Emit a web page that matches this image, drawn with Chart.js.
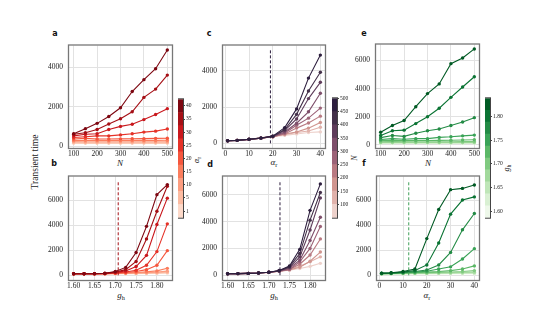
<!DOCTYPE html>
<html>
<head>
<meta charset="utf-8">
<script src="https://cdn.jsdelivr.net/npm/chart.js@4.4.1/dist/chart.umd.min.js"></script>
<style>
  body { margin: 0; width: 560px; height: 320px; background: #fff; position: relative; overflow: hidden; }
  canvas { position: absolute; }
  .lbl { position: absolute; transform: translate(-50%, -50%); white-space: nowrap; color: #222;
         font-family: "Liberation Serif", serif; font-size: 9px; line-height: 1; }
  .it { font-style: italic; }
  .rot { transform: translate(-50%, -50%) rotate(-90deg); }
  .let { position: absolute; transform: translate(-50%, -50%); font: bold 8px "DejaVu Sans", sans-serif; color: #111; }
  sub { font-size: 70%; vertical-align: -2px; font-style: normal; }
</style>
</head>
<body>
<div class="lbl rot" style="left:36px;top:162px;font-size:9.5px">Transient time</div>

<div class="let" style="left:55px;top:33px">a</div>
<div class="let" style="left:54px;top:163px">b</div>
<div class="let" style="left:209px;top:33px">c</div>
<div class="let" style="left:210px;top:164px">d</div>
<div class="let" style="left:364px;top:33px">e</div>
<div class="let" style="left:364px;top:163px">f</div>

<div class="lbl it" style="left:120px;top:163px">N</div>
<div class="lbl" style="left:121px;top:296px"><i>g</i><sub>h</sub></div>
<div class="lbl" style="left:274px;top:163px"><i>α</i><sub>r</sub></div>
<div class="lbl" style="left:274px;top:296px"><i>g</i><sub>h</sub></div>
<div class="lbl it" style="left:428px;top:163px">N</div>
<div class="lbl" style="left:427px;top:296px"><i>α</i><sub>r</sub></div>

<div class="lbl rot" style="left:198px;top:160px;font-size:8px"><i>α</i><sub>r</sub></div>
<div class="lbl rot it" style="left:355px;top:158px;font-size:8px">N</div>
<div class="lbl rot" style="left:508px;top:168px;font-size:8px"><i>g</i><sub>h</sub></div>

<script>
const nVals = [100, 150, 200, 250, 300, 350, 400, 450, 500];
const alphaVals = [1, 5, 10, 15, 20, 25, 30, 35, 40];
const ghVals = [1.6, 1.625, 1.65, 1.675, 1.7, 1.725, 1.75, 1.775, 1.8, 1.825];

// transient time, row per alpha_r, column per N (panels a and c)
const timeAlphaN = [
  [140, 140, 140, 140, 140, 140, 140, 140, 140],
  [170, 165, 165, 165, 165, 165, 165, 165, 165],
  [230, 225, 220, 220, 220, 220, 220, 225, 225],
  [290, 300, 290, 285, 285, 290, 290, 290, 295],
  [360, 400, 360, 360, 370, 375, 380, 395, 400],
  [440, 475, 520, 520, 570, 630, 710, 760, 870],
  [520, 600, 630, 840, 1000, 1110, 1345, 1600, 1900],
  [600, 680, 840, 1120, 1390, 1740, 2470, 2890, 3600],
  [632, 885, 1154, 1502, 1945, 2767, 3368, 3921, 4870]
];

// row per alpha_r, column per g_h (panel b)
const timeAlphaGh = [
  [110, 110, 115, 115, 120, 125, 130, 140, 150, 170],
  [115, 115, 120, 120, 130, 140, 150, 170, 190, 230],
  [120, 120, 120, 120, 140, 160, 180, 210, 250, 330],
  [120, 120, 120, 125, 150, 180, 220, 280, 350, 555],
  [120, 120, 120, 130, 170, 220, 300, 450, 800, 1965],
  [120, 120, 125, 135, 190, 260, 400, 800, 1890, 4100],
  [120, 120, 125, 140, 220, 350, 700, 1590, 4050, 6150],
  [120, 120, 130, 150, 250, 450, 1100, 2900, 5100, 7100],
  [120, 125, 130, 160, 300, 630, 1820, 3900, 6430, 7230]
];

// row per g_h, column per N (panels d and e)
const timeGhN = [
  [110, 110, 110, 110, 110, 110, 110, 110, 110],
  [125, 125, 125, 125, 125, 125, 125, 125, 125],
  [140, 140, 140, 140, 140, 140, 140, 140, 140],
  [165, 165, 165, 165, 165, 165, 165, 165, 165],
  [220, 225, 215, 215, 220, 220, 220, 225, 230],
  [300, 320, 300, 310, 310, 320, 330, 340, 360],
  [380, 440, 400, 440, 440, 530, 575, 640, 690],
  [510, 665, 600, 820, 1000, 1130, 1375, 1620, 1930],
  [665, 1000, 1045, 1510, 2000, 2600, 3375, 4110, 4840],
  [890, 1375, 1730, 2710, 3640, 4330, 5770, 6170, 6815]
];

// row per g_h, column per alpha_r (panel f)
const timeGhAlpha = [
  [100, 105, 110, 115, 115, 120, 120, 125, 125],
  [105, 110, 120, 125, 130, 135, 140, 145, 150],
  [110, 120, 130, 140, 150, 160, 170, 180, 190],
  [115, 130, 145, 160, 170, 185, 200, 220, 250],
  [120, 140, 160, 180, 200, 230, 260, 300, 375],
  [130, 150, 180, 220, 250, 300, 375, 500, 750],
  [140, 160, 200, 250, 320, 500, 675, 1300, 2125],
  [150, 170, 220, 300, 425, 825, 1825, 3625, 4925],
  [160, 180, 250, 380, 825, 2575, 4875, 6000, 6250],
  [175, 200, 300, 500, 2925, 5250, 6825, 6925, 7200]
];

// critical values (dashed lines) and their heights
const critGhB = 1.707, critTopB = 7500;
const critAlphaC = 19, critTopC = 5150;
const critGhD = 1.727, critTopD = 7050;
const critAlphaF = 12.4, critTopF = 7500;

const redsCols = ['#fdd9c9', '#fcbba1', '#fc9d80', '#fb7d5d', '#f5573e', '#e53228', '#c9181d', '#a50f15', '#7d0711'];
const purpCols = ['#edd1cb', '#e1b2ab', '#d0958f', '#b97a82', '#9c6378', '#7e4f6b', '#5f3d5b', '#433049', '#2d1e3e'];
const greenCols = ['#eef8ea', '#d9f0d3', '#bfe6b8', '#a2d99c', '#80ca80', '#5cb867', '#3aa357', '#238b45', '#0b7434', '#005a24'];

const serif = "'Liberation Serif', serif";
const gridCol = '#e2e2e2';

const frame = {
  id: 'frame',
  afterDraw(c, args, opts) {
    const { ctx, chartArea: a } = c;
    ctx.save();
    ctx.strokeStyle = opts.color || '#777';
    ctx.lineWidth = opts.width || 1.3;
    ctx.strokeRect(a.left - 0.5, a.top - 0.5, a.right - a.left + 1, a.bottom - a.top + 1);
    ctx.restore();
  }
};

function lineSet(xs, ys, color) {
  return {
    data: xs.map((x, i) => ({ x, y: ys[i] })),
    borderColor: color, backgroundColor: color, pointBackgroundColor: color,
    borderWidth: 1.1, pointRadius: 1.7, pointBorderWidth: 0
  };
}

function dashSet(x, top, color) {
  return {
    data: [{ x, y: 0 }, { x, y: top }],
    borderColor: color, borderWidth: 1, borderDash: [3, 2], pointRadius: 0
  };
}

function panel(box, xr, yr, datasets) {
  const padL = 34, padT = 4, padR = 4, padB = 20;
  const cv = document.createElement('canvas');
  cv.width = box.w + padL + padR;
  cv.height = box.h + padT + padB;
  cv.style.left = (box.l - padL) + 'px';
  cv.style.top = (box.t - padT) + 'px';
  document.body.appendChild(cv);
  const tickFont = { family: serif, size: 7.5 };
  new Chart(cv, {
    type: 'line',
    data: { datasets },
    options: {
      responsive: false, animation: false,
      layout: { padding: { top: padT, right: padR, left: 0, bottom: 0 } },
      plugins: { legend: { display: false }, tooltip: { enabled: false } },
      scales: {
        x: {
          type: 'linear', min: xr.min, max: xr.max,
          afterBuildTicks: s => { s.ticks = xr.ticks.map(v => ({ value: v })); },
          afterFit: s => { s.height = padB; },
          ticks: { font: tickFont, color: '#222', padding: 2, maxRotation: 0, autoSkip: false, callback: xr.fmt },
          grid: { color: gridCol, drawTicks: false },
          border: { display: false }
        },
        y: {
          type: 'linear', min: yr.min, max: yr.max,
          afterBuildTicks: s => { s.ticks = yr.ticks.map(v => ({ value: v })); },
          afterFit: s => { s.width = padL; },
          ticks: { font: tickFont, color: '#222', padding: 6, autoSkip: false, callback: v => String(v) },
          grid: { color: gridCol, drawTicks: false },
          border: { display: false }
        }
      }
    },
    plugins: [frame]
  });
}

function colorbar(box, cols, bands, range, ticks, fmt) {
  const padT = 4, padR = 22;
  const cv = document.createElement('canvas');
  cv.width = box.w + padR;
  cv.height = box.h + padT * 2;
  cv.style.left = box.l + 'px';
  cv.style.top = (box.t - padT) + 'px';
  document.body.appendChild(cv);
  new Chart(cv, {
    type: 'bar',
    data: {
      labels: [''],
      datasets: cols.map((c, i) => ({
        data: [bands[i]], backgroundColor: c, borderWidth: 0,
        barPercentage: 1, categoryPercentage: 1, grouped: false
      }))
    },
    options: {
      responsive: false, animation: false,
      layout: { padding: { top: padT, bottom: padT, left: 0, right: 0 } },
      plugins: { legend: { display: false }, tooltip: { enabled: false }, frame: { color: '#444', width: 1 } },
      scales: {
        x: { display: false },
        y: {
          position: 'right', min: range[0], max: range[1],
          afterBuildTicks: s => { s.ticks = ticks.map(v => ({ value: v })); },
          afterFit: s => { s.width = padR; },
          ticks: { font: { family: serif, size: 5.5 }, color: '#222', padding: 1, autoSkip: false, callback: fmt },
          grid: { drawOnChartArea: false, drawTicks: true, tickLength: 2, color: '#444' },
          border: { display: false }
        }
      }
    },
    plugins: [frame]
  });
}

const xN = { min: 80, max: 520, ticks: [100, 200, 300, 400, 500], fmt: v => String(v) };
const xG = { min: 1.58875, max: 1.83625, ticks: [1.6, 1.65, 1.7, 1.75, 1.8], fmt: v => v.toFixed(2) };
const xA = { min: -0.95, max: 41.95, ticks: [0, 10, 20, 30, 40], fmt: v => String(v) };

// dark lines first so they are drawn on top
const rev = a => a.slice().reverse();

// a: vs N, colour by alpha_r
panel({ l: 69, t: 39, w: 103, h: 109 }, xN, { min: -95, max: 5100, ticks: [0, 2000, 4000] },
  rev(timeAlphaN.map((row, i) => lineSet(nVals, row, redsCols[i]))));

// b: vs g_h, colour by alpha_r
panel({ l: 69, t: 170, w: 103, h: 110 }, xG, { min: -375, max: 7875, ticks: [0, 2000, 4000, 6000] },
  [dashSet(critGhB, critTopB, '#a50f15')].concat(rev(timeAlphaGh.map((row, i) => lineSet(ghVals, row, redsCols[i])))));

// c: vs alpha_r, colour by N
panel({ l: 223, t: 39, w: 102, h: 109 }, xA, { min: -257, max: 5400, ticks: [0, 2000, 4000] },
  [dashSet(critAlphaC, critTopC, '#2d1e3e')].concat(rev(nVals.map((n, j) =>
    lineSet(alphaVals, timeAlphaN.map(r => r[j]), purpCols[j])))));

// d: vs g_h, colour by N
panel({ l: 223, t: 170, w: 102, h: 110 }, xG, { min: -353, max: 7365, ticks: [0, 2000, 4000, 6000] },
  [dashSet(critGhD, critTopD, '#2d1e3e')].concat(rev(nVals.map((n, j) =>
    lineSet(ghVals, timeGhN.map(r => r[j]), purpCols[j])))));

// e: vs N, colour by g_h
panel({ l: 376, t: 38, w: 103, h: 110 }, xN, { min: -225, max: 7130, ticks: [0, 2000, 4000, 6000] },
  rev(timeGhN.map((row, i) => lineSet(nVals, row, greenCols[i]))));

// f: vs alpha_r, colour by g_h
panel({ l: 377, t: 170, w: 102, h: 110 }, xA, { min: -375, max: 7875, ticks: [0, 2000, 4000, 6000] },
  [dashSet(critAlphaF, critTopF, '#41a05a')].concat(rev(timeGhAlpha.map((row, i) => lineSet(alphaVals, row, greenCols[i])))));

// colour bars
colorbar({ l: 178, t: 99, w: 5, h: 119 }, redsCols, alphaVals.map((a, i) => [i, i + 1]), [0, 9],
  alphaVals.map((a, i) => i + 0.5), v => alphaVals[Math.round(v - 0.5)]);
colorbar({ l: 332, t: 98, w: 5, h: 120 }, purpCols, nVals.map(n => [n - 50, n]), [50, 500],
  nVals, v => String(v));
colorbar({ l: 485, t: 98, w: 5, h: 120 }, greenCols, ghVals.map(g => [g - 0.0125, g + 0.0125]), [1.5875, 1.8375],
  [1.6, 1.65, 1.7, 1.75, 1.8], v => v.toFixed(2));
</script>
</body>
</html>
